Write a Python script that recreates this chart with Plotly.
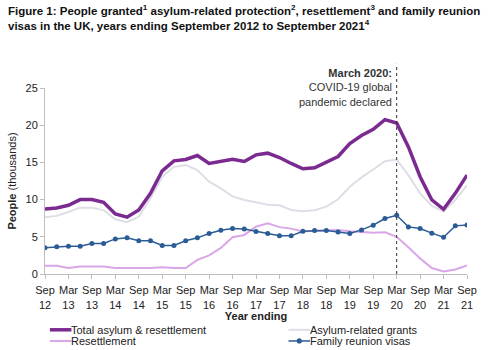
import plotly.graph_objects as go

quarters = list(range(37))
tick_vals = list(range(0, 37, 2))
tick_text = ["Sep<br>12", "Mar<br>13", "Sep<br>13", "Mar<br>14", "Sep<br>14", "Mar<br>15",
             "Sep<br>15", "Mar<br>16", "Sep<br>16", "Mar<br>17", "Sep<br>17", "Mar<br>18",
             "Sep<br>18", "Mar<br>19", "Sep<br>19", "Mar<br>20", "Sep<br>20", "Mar<br>21", "Sep<br>21"]

total = [8.74, 8.87, 9.23, 10.0, 10.0, 9.64, 8.07, 7.63, 8.61, 10.84, 13.87, 15.21, 15.39,
         15.93, 14.86, 15.17, 15.43, 15.13, 16.01, 16.24, 15.66, 14.86, 14.14, 14.27, 15.0,
         15.8, 17.54, 18.61, 19.45, 20.75, 20.30, 17.08, 13.07, 9.95, 8.70, 10.84, 13.29]
asylum = [7.63, 7.81, 8.34, 8.92, 8.92, 8.56, 7.36, 6.96, 7.71, 10.17, 13.07, 14.4, 14.63,
          13.96, 12.4, 11.51, 10.44, 9.95, 9.64, 9.32, 9.24, 8.61, 8.43, 8.57, 9.05, 10.04,
          11.73, 12.98, 14.05, 15.17, 15.39, 13.29, 10.84, 9.14, 8.38, 9.95, 11.95]
resettlement = [1.1, 1.1, 0.8, 1.0, 1.0, 1.0, 0.8, 0.75, 0.8, 0.8, 0.9, 0.8, 0.8, 1.9, 2.5,
                3.5, 4.95, 5.25, 6.35, 6.8, 6.3, 6.1, 5.7, 5.8, 5.9, 5.9, 5.75, 5.6, 5.55,
                5.6, 5.0, 3.6, 2.1, 0.8, 0.35, 0.6, 1.15]
family = [3.52, 3.65, 3.74, 3.74, 4.10, 4.10, 4.72, 4.86, 4.46, 4.46, 3.83, 3.83, 4.46, 4.86,
          5.44, 5.89, 6.11, 6.06, 5.70, 5.44, 5.13, 5.13, 5.75, 5.84, 5.84, 5.66, 5.44, 5.93,
          6.56, 7.45, 7.90, 6.33, 6.11, 5.49, 4.95, 6.47, 6.60]

C_TOTAL = "#7b2a90"
C_ASYLUM = "#dfdde6"
C_RESET = "#d9a6e8"
C_FAMILY = "#2b5c95"
FONT = "Liberation Sans"

fig = go.Figure()
fig.add_trace(go.Scatter(x=quarters, y=asylum, mode="lines", line=dict(color=C_ASYLUM, width=2),
                         name="Asylum-related grants", showlegend=False))
fig.add_trace(go.Scatter(x=quarters, y=resettlement, mode="lines", line=dict(color=C_RESET, width=2),
                         name="Resettlement", showlegend=False))
fig.add_trace(go.Scatter(x=quarters, y=family, mode="lines+markers",
                         line=dict(color=C_FAMILY, width=1.5), marker=dict(size=5, color=C_FAMILY),
                         name="Family reunion visas", showlegend=False))
fig.add_trace(go.Scatter(x=quarters, y=total, mode="lines", line=dict(color=C_TOTAL, width=3.5),
                         name="Total asylum & resettlement", showlegend=False))

# COVID marker line
fig.add_shape(type="line", xref="x", yref="paper", x0=30, x1=30, y0=0, y1=1.13,
              line=dict(color="#333333", width=1, dash="dot"))
fig.add_annotation(x=30, y=1.125, xref="x", yref="paper", xanchor="right", yanchor="top",
                   xshift=-3, showarrow=False, align="right",
                   text="<b>March 2020:</b><br>COVID-19 global<br>pandemic declared",
                   font=dict(family=FONT, size=11, color="#333333"))

# Title
fig.add_annotation(x=-0.093, y=1.47, xref="paper", yref="paper", xanchor="left", yanchor="top",
                   showarrow=False, align="left",
                   text="<b>Figure 1: People granted<sup>1</sup> asylum-related protection<sup>2</sup>, resettlement<sup>3</sup> and family reunion<br>visas in the UK, years ending September 2012 to September 2021<sup>4</sup></b>",
                   font=dict(family=FONT, size=11.5, color="#111111"))

# Manual legend
legend_items = [("Total asylum & resettlement", C_TOTAL, 3.5, False, 0.0116, -0.3),
                ("Asylum-related grants", C_ASYLUM, 2, False, 0.577, -0.3),
                ("Resettlement", C_RESET, 2, False, 0.0116, -0.36),
                ("Family reunion visas", C_FAMILY, 1.5, True, 0.577, -0.36)]
for name, col, w, mk, lx, ly in legend_items:
    fig.add_shape(type="line", xref="paper", yref="paper", x0=lx, x1=lx + 0.051, y0=ly, y1=ly,
                  line=dict(color=col, width=w))
    if mk:
        fig.add_shape(type="circle", xref="paper", yref="paper",
                      x0=lx + 0.0255 - 0.006, x1=lx + 0.0255 + 0.006,
                      y0=ly - 0.014, y1=ly + 0.014, fillcolor=col, line=dict(width=0))
    fig.add_annotation(x=lx + 0.051, y=ly, xref="paper", yref="paper", xanchor="left",
                       yanchor="middle", showarrow=False, text=name, xshift=-2,
                       font=dict(family=FONT, size=11, color="#222222"))

fig.update_layout(
    width=489, height=350,
    margin=dict(l=42, r=17, t=88, b=76),
    paper_bgcolor="white", plot_bgcolor="white",
    font=dict(family=FONT, size=11, color="#222222"),
    showlegend=False,
)
fig.update_xaxes(range=[0, 36], tickvals=tick_vals, ticktext=tick_text, showgrid=False,
                 showline=True, linecolor="#bfbfbf", linewidth=1, ticks="outside",
                 tickcolor="#bfbfbf", ticklen=4, zeroline=False, ticklabelstandoff=2,
                 tickfont=dict(family=FONT, size=11, color="#222222"),
                 title=dict(text="<b>Year ending</b>", standoff=1,
                            font=dict(family=FONT, size=11, color="#222222")))
fig.update_yaxes(range=[0, 25], tickvals=[0, 5, 10, 15, 20, 25], showgrid=False,
                 showline=True, linecolor="#bfbfbf", linewidth=1, ticks="outside",
                 tickcolor="#bfbfbf", ticklen=4, zeroline=False,
                 tickfont=dict(family=FONT, size=11, color="#222222"),
                 title=dict(text="<b>People</b> (thousands)", standoff=6,
                            font=dict(family=FONT, size=11, color="#222222")))

fig.write_html("out.html")
